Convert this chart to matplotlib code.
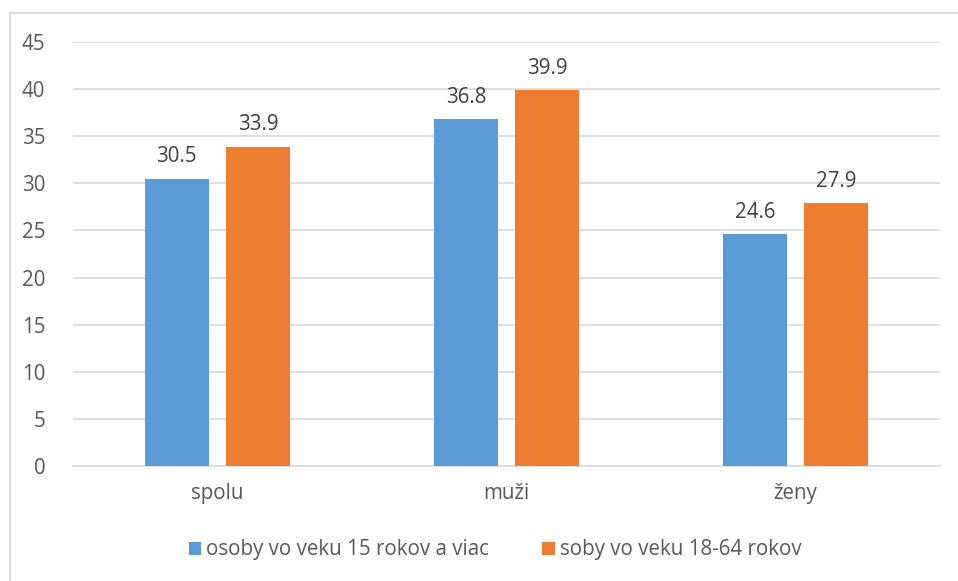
import matplotlib
matplotlib.use("Agg")
import matplotlib.pyplot as plt
import numpy as np

# data
categories = ['spolu', 'muži', 'ženy']
series_names = ['osoby vo veku 15 rokov a viac', 'soby vo veku 18-64 rokov']
vals_15 = [30.5, 36.8, 24.6]
vals_18 = [33.9, 39.9, 27.9]
yticks = [0, 5, 10, 15, 20, 25, 30, 35, 40, 45]

plt.rcParams['font.family'] = ['Open Sans', 'DejaVu Sans']
txt = '#595959'
fs = 14.8

fig = plt.figure(figsize=(9.58, 5.81), dpi=100)
# frame around the chart area
fig.patches.append(plt.Rectangle((10/958, -0.05), 1.1, 1 - 13/581 + 0.05, transform=fig.transFigure,
                                 fill=False, edgecolor='#D9D9D9', linewidth=1.2))
ax = fig.add_axes([73/958, 1 - 466/581, (940 - 73)/958, (466 - 42)/581])

x = np.arange(len(categories))
w = 0.223
off = 0.141
b1 = ax.bar(x - off, vals_15, w, color='#5B9BD5', label=series_names[0], zorder=3)
b2 = ax.bar(x + off, vals_18, w, color='#ED7D31', label=series_names[1], zorder=3)

for bars, vals in ((b1, vals_15), (b2, vals_18)):
    for r, v in zip(bars, vals):
        ax.text(r.get_x() + r.get_width()/2, v + 1.2, f'{v:.1f}', ha='center', va='bottom',
                fontsize=fs, color='#404040')

ax.set_xlim(-0.5, 2.5)
ax.set_ylim(0, 45)
ax.set_yticks(yticks)
ax.set_xticks(x)
ax.set_xticklabels(categories)
ax.grid(axis='y', color='#D9D9D9', linewidth=1.2, zorder=0)
for s in ['top', 'right', 'left']:
    ax.spines[s].set_visible(False)
ax.spines['bottom'].set_color('#D9D9D9')
ax.spines['bottom'].set_linewidth(1.2)
ax.tick_params(axis='both', length=0, labelsize=fs, labelcolor=txt)
ax.tick_params(axis='y', pad=20)
ax.tick_params(axis='x', pad=12)

ax.legend(loc='center', bbox_to_anchor=(495/958, 1 - 550/581), bbox_transform=fig.transFigure,
          ncol=2, frameon=False, fontsize=fs, labelcolor=txt, handlelength=0.6, handleheight=0.6,
          handletextpad=0.25, columnspacing=2.6)

fig.savefig('out.png', dpi=100)
